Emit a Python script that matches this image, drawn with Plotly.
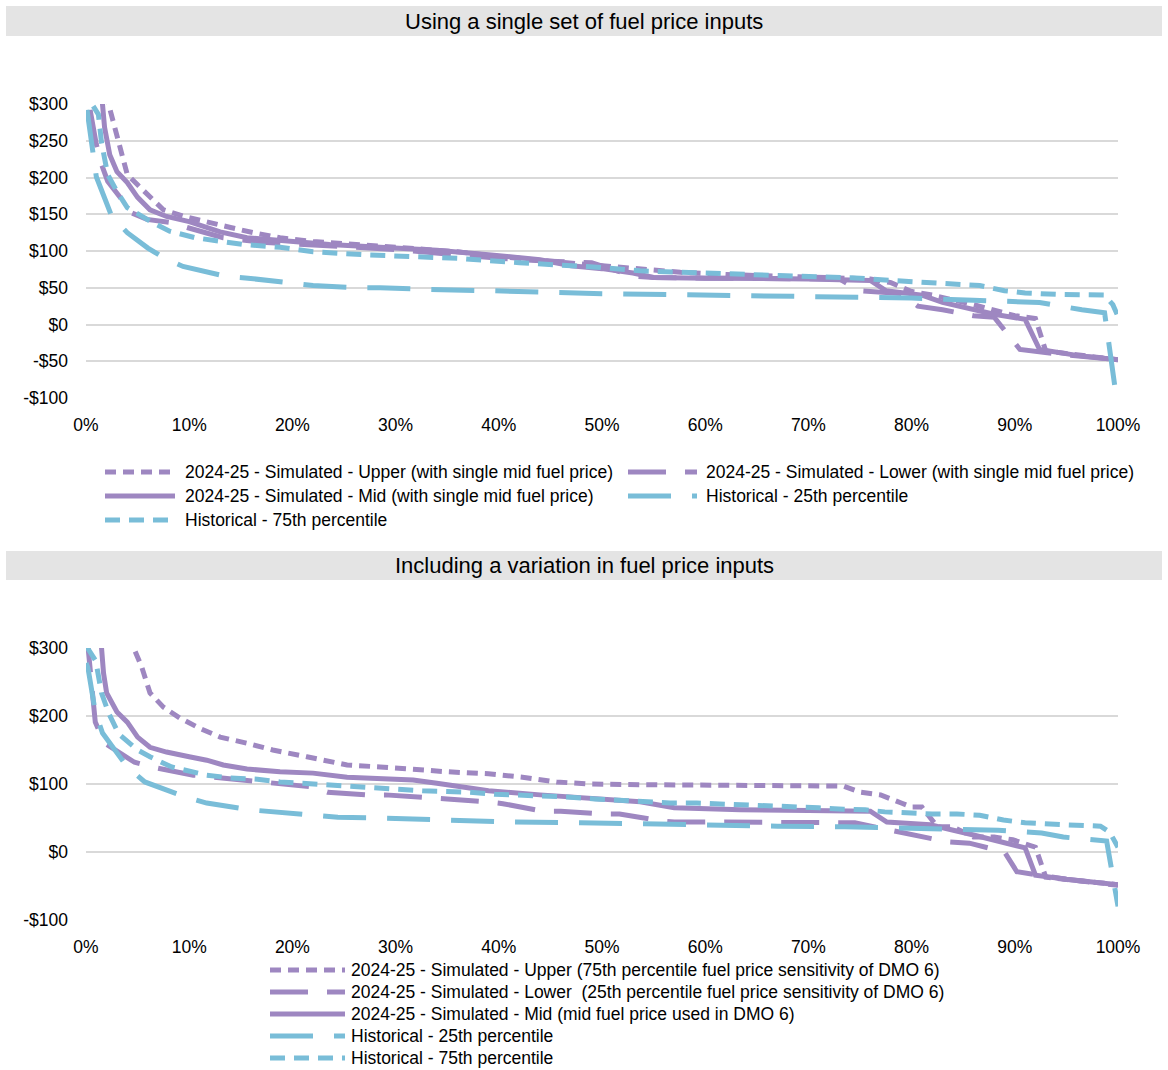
import plotly.graph_objects as go

W, H = 1168, 1070
PURPLE = "#9E87C1"
BLUE = "#79BDD8"
GRID = "#D9D9D9"
FONT = "Liberation Sans Narrow, Arial Narrow, Liberation Sans, Arial, sans-serif"

# ---------------- data: top chart (single set of fuel price inputs) ----------------
top_upper_x = [1.9, 2.3, 3.0, 4.0, 5.0, 6.2, 7.5, 9.8, 11.7, 14, 16.2, 18.8, 22, 25.3, 30, 36, 38.5, 40.4,
               46.6, 50.5, 54, 57.6, 62, 66, 70, 74, 76, 78, 80, 82, 86, 90, 92, 93, 96, 100]
top_upper_y = [315, 295, 254, 204, 190, 173, 156, 146, 139, 132, 125, 118, 113, 110, 105, 99, 95, 92,
               84, 79, 75, 71, 68, 66, 64, 63, 62, 57, 45, 40, 27, 12, 8, -36, -41, -48]

top_lower_x = [0.4, 1.0, 1.5, 2.1, 3.3, 4.4, 5.9, 8.1, 9.8, 13.3, 17, 20, 25, 30, 35, 40, 45, 49,
               53, 55, 60, 65, 70, 73, 75, 79, 80.6, 83, 86, 88, 90.5, 94, 100]
top_lower_y = [292, 245, 218, 195, 173, 152, 143, 139, 132, 118, 112, 110, 106, 102, 96, 90, 86, 84,
               66, 64, 63, 63, 62, 62, 46, 42, 25, 20, 12, 10, -34, -40, -48]

top_mid_x = [1.5, 1.8, 2.3, 3.0, 4.0, 5.0, 6.2, 7.8, 10, 13, 15.6, 19.5, 23.6, 28.5, 34, 39, 44, 47,
             50, 53, 55, 60, 65, 70, 76, 77.5, 81, 83, 88, 91, 92.4, 96, 100]
top_mid_y = [315, 268, 231, 208, 193, 173, 156, 147, 140, 126, 118, 113, 109, 105, 101, 95, 88, 80,
             76, 70, 64, 63, 63, 62, 60, 46, 40, 30, 14, 7, -34, -42, -48]

top_h25_x = [0.1, 0.7, 1.0, 2.5, 4.0, 6.0, 7.5, 9.4, 12, 13.7, 15.7, 20, 22, 26.4, 28.5, 32.8, 35, 40,
             45, 50, 55, 60, 65, 70, 75, 80, 86, 92.4, 96.5, 98.7, 100]
top_h25_y = [292, 234, 201, 147, 125, 104, 91, 79, 70, 65, 63, 56, 53, 50, 50, 48, 47, 45,
             44, 42, 41, 40, 39, 38, 37, 36, 33, 30, 20, 16, -115]

top_h75_x = [0.7, 1.2, 1.5, 2.1, 3.0, 4.0, 6.4, 8.1, 10.6, 13, 15.2, 18.8, 22, 26.8, 31.7, 36, 42, 45,
             49.5, 53.7, 56, 58.8, 62.7, 66.5, 70.4, 73, 75, 78, 81.8, 84.4, 86.6, 89, 91, 94, 96.3,
             98.7, 99.5, 100]
top_h75_y = [297, 286, 248, 204, 181, 159, 139, 127, 118, 113, 109, 105, 99, 95, 93, 90, 84, 82,
             78, 73, 72, 71, 69, 66, 65, 64, 63, 60, 57, 56, 53, 46, 43, 41, 40,
             40, 27, 11]

# ---------------- data: bottom chart (variation in fuel price inputs) ----------------
bot_upper_x = [4.2, 4.6, 5.4, 6.2, 7.5, 9.1, 11, 13, 15.6, 18.1, 21.4, 25.3, 28.5, 31.7, 35, 39, 42.3,
               45.6, 48.8, 53.7, 60, 67, 73.4, 75, 77, 79, 80, 81, 81.8, 82.5, 84, 86, 88, 89.8, 92,
               92.7, 93, 96, 100]
bot_upper_y = [320, 301, 272, 234, 213, 197, 182, 169, 160, 150, 140, 128, 125, 121, 118, 115, 110,
               103, 100, 99, 98, 97, 97, 88, 84, 72, 66, 66, 50, 37, 37, 22, 22, 18, 7,
               -22, -37, -42, -48]

bot_lower_x = [0.1, 0.2, 0.9, 1.8, 4.7, 6.7, 10.4, 12.3, 16, 18, 21.7, 23.4, 27.2, 29, 33, 35, 38.7,
               40.4, 44.3, 46, 50, 51.7, 55.6, 57, 61, 67, 72.8, 74.5, 78, 80, 83.4, 85.6, 89, 90.2,
               95, 100]
bot_lower_y = [320, 301, 191, 160, 132, 124, 113, 110, 106, 101, 96, 88, 84, 84, 79, 78, 74,
               71, 60, 60, 56, 56, 46, 44, 44, 43, 43, 43, 32, 26, 15, 13, 0, -29,
               -40, -49]

bot_mid_x = [1.4, 1.5, 1.7, 2.0, 3.0, 4.0, 5.0, 6.2, 7.8, 10, 11.7, 13.3, 15.6, 18.8, 22, 25.3, 31.7,
             34, 39, 44, 48.8, 53.7, 57, 63.4, 70, 76, 77.6, 81.8, 86, 91, 92, 95, 100]
bot_mid_y = [320, 301, 263, 234, 206, 191, 169, 154, 147, 140, 135, 128, 122, 118, 116, 110, 106,
             101, 90, 84, 79, 74, 65, 62, 61, 60, 44, 40, 25, 6, -34, -40, -48]

bot_h25_x = [0.0, 0.2, 0.9, 1.6, 4.0, 5.7, 9.6, 11.7, 15.9, 18, 22.2, 24.4, 28.7, 30.7, 35, 41.4,
             47.9, 54.4, 60.8, 67, 73.5, 80, 86.3, 88.4, 92.6, 94.7, 98.9, 100]
bot_h25_y = [278, 270, 206, 175, 125, 103, 81, 72, 62, 59, 53, 51, 50, 49, 46, 44,
             43, 41, 40, 38, 37, 35, 34, 32, 28, 22, 16, -80]

bot_h75_x = [0.1, 0.9, 1.1, 1.5, 2.2, 2.5, 3.0, 3.3, 4.3, 5.0, 6.2, 7.2, 8.3, 9.4, 10.6, 11.7, 14,
             16.6, 18.8, 21, 23.4, 25.6, 27.8, 30.2, 32.6, 35, 37.2, 39.6, 42, 44.3, 46.6, 49.3,
             51.5, 54.3, 56.6, 59.2, 61.2, 63.8, 66.3, 68.7, 71, 73.4, 75.5, 77.4, 80, 82, 84.4,
             86.6, 88.9, 91, 93.4, 95.6, 98.3, 99.2, 100]
bot_h75_y = [301, 282, 268, 234, 204, 194, 179, 172, 160, 150, 140, 132, 125, 121, 116, 113, 109,
             107, 103, 101, 99, 96, 94, 91, 90, 89, 88, 85, 84, 82, 81, 78,
             76, 75, 72, 72, 71, 69, 68, 66, 65, 63, 62, 59, 57, 56, 56,
             54, 47, 43, 41, 40, 38, 29, 7]

# ---------------- axes ticks / labels ----------------
x_tickvals = [0, 10, 20, 30, 40, 50, 60, 70, 80, 90, 100]
x_ticktext = ["0%", "10%", "20%", "30%", "40%", "50%", "60%", "70%", "80%", "90%", "100%"]
top_y_tickvals = [-100, -50, 0, 50, 100, 150, 200, 250, 300]
top_y_ticktext = ["-$100", "-$50", "$0", "$50", "$100", "$150", "$200", "$250", "$300"]
bot_y_tickvals = [-100, 0, 100, 200, 300]
bot_y_ticktext = ["-$100", "$0", "$100", "$200", "$300"]

top_title = "Using a single set of fuel price inputs"
bot_title = "Including a variation in fuel price inputs"

top_names = [
    "2024-25 - Simulated - Upper (with single mid fuel price)",
    "2024-25 - Simulated - Lower (with single mid fuel price)",
    "2024-25 - Simulated - Mid (with single mid fuel price)",
    "Historical - 25th percentile",
    "Historical - 75th percentile",
]
bot_names = [
    "2024-25 - Simulated - Upper (75th percentile fuel price sensitivity of DMO 6)",
    "2024-25 - Simulated - Lower\u00a0 (25th percentile fuel price sensitivity of DMO 6)",
    "2024-25 - Simulated - Mid (mid fuel price used in DMO 6)",
    "Historical - 25th percentile",
    "Historical - 75th percentile",
]

# styles: (color, dash)
STYLES = [
    (PURPLE, "11px,7px"),     # Upper
    (PURPLE, "38px,19px"),    # Lower
    (PURPLE, "solid"),        # Mid
    (BLUE, "43px,21px"),      # Hist 25th
    (BLUE, "15px,9px"),       # Hist 75th
]
LW = 5

top_series = [(top_upper_x, top_upper_y), (top_lower_x, top_lower_y), (top_mid_x, top_mid_y),
              (top_h25_x, top_h25_y), (top_h75_x, top_h75_y)]
bot_series = [(bot_upper_x, bot_upper_y), (bot_lower_x, bot_lower_y), (bot_mid_x, bot_mid_y),
              (bot_h25_x, bot_h25_y), (bot_h75_x, bot_h75_y)]

fig = go.Figure()
for (xs, ys), name, (col, dash) in zip(top_series, top_names, STYLES):
    fig.add_trace(go.Scatter(x=xs, y=ys, name=name, mode="lines", showlegend=False,
                             line=dict(color=col, width=LW, dash=dash),
                             xaxis="x", yaxis="y"))
for (xs, ys), name, (col, dash) in zip(bot_series, bot_names, STYLES):
    fig.add_trace(go.Scatter(x=xs, y=ys, name=name, mode="lines", showlegend=False,
                             line=dict(color=col, width=LW, dash=dash),
                             xaxis="x2", yaxis="y2"))


def px(xp):
    return xp / W


def py(yp):
    return 1 - yp / H


TXT = 17.5
tick_font = dict(family=FONT, size=TXT, color="#000000")
xd = [px(86), px(1118)]
xaxis_common = dict(range=[0, 100], tickvals=x_tickvals, ticktext=x_ticktext, showgrid=False,
                    zeroline=False, showline=False, ticks="", tickfont=tick_font, automargin=False,
                    ticklabelstandoff=14, fixedrange=True)
yaxis_common = dict(range=[-100, 300], showgrid=True, gridcolor=GRID, gridwidth=2, automargin=False,
                    zeroline=False, showline=False, ticks="", tickfont=tick_font,
                    ticklabelstandoff=17, fixedrange=True)

fig.update_layout(
    width=W, height=H, margin=dict(l=0, r=0, t=0, b=0, autoexpand=False),
    paper_bgcolor="white", plot_bgcolor="white",
    font=dict(family=FONT, size=TXT, color="#000000"),
    xaxis=dict(domain=xd, anchor="y", **xaxis_common),
    yaxis=dict(domain=[py(398), py(104)], anchor="x", tickvals=top_y_tickvals,
               ticktext=top_y_ticktext, **yaxis_common),
    xaxis2=dict(domain=xd, anchor="y2", **xaxis_common),
    yaxis2=dict(domain=[py(920), py(648)], anchor="x2", tickvals=bot_y_tickvals,
                ticktext=bot_y_ticktext, **yaxis_common),
    showlegend=False,
)

shapes = []
annotations = []
# title bands
for (y0, y1, text) in [(6, 36, top_title), (551, 580, bot_title)]:
    shapes.append(dict(type="rect", xref="paper", yref="paper", x0=px(6), x1=px(1162),
                       y0=py(y1), y1=py(y0), fillcolor="#E4E4E4", line=dict(width=0), layer="below"))
    annotations.append(dict(text=text, xref="paper", yref="paper", x=px(584), y=py((y0 + y1) / 2),
                            xanchor="center", yanchor="middle", showarrow=False,
                            font=dict(family=FONT, size=22, color="#000000")))

# custom legends (swatch + label)
top_leg_pos = [(105, 175, 183, 472), (628, 697, 704, 472), (105, 175, 183, 496),
               (628, 697, 704, 496), (105, 175, 183, 520)]
bot_leg_pos = [(270, 345, 349, 970), (270, 345, 349, 992), (270, 345, 349, 1014),
               (270, 345, 349, 1036), (270, 345, 349, 1058)]
for names, poss in [(top_names, top_leg_pos), (bot_names, bot_leg_pos)]:
    for name, (col, dash), (lx0, lx1, tx, yy) in zip(names, STYLES, poss):
        shapes.append(dict(type="line", xref="paper", yref="paper", x0=px(lx0), x1=px(lx1),
                           y0=py(yy), y1=py(yy), line=dict(color=col, width=LW, dash=dash)))
        annotations.append(dict(text=name, xref="paper", yref="paper", x=px(tx), y=py(yy),
                                xanchor="left", yanchor="middle", showarrow=False,
                                font=dict(family=FONT, size=TXT, color="#000000")))

fig.update_layout(shapes=shapes, annotations=annotations)

fig.write_html("out.html", config={"displayModeBar": False},
               post_script="document.body.style.margin='0';")
